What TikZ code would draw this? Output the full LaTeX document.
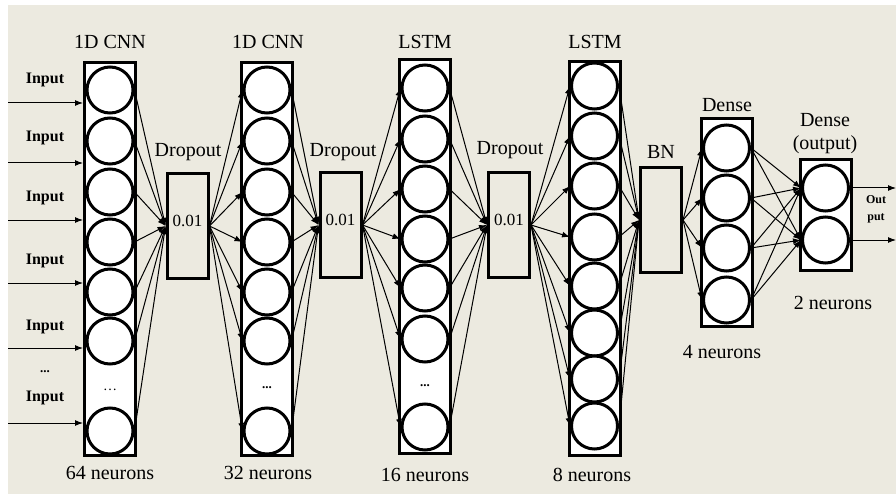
\documentclass[tikz,border=0pt]{standalone}
\usepackage{fontspec}
\setmainfont{Liberation Serif}
\usepackage{tikz}
\usetikzlibrary{arrows.meta,calc}
\definecolor{fondo}{RGB}{236,234,224}

\begin{document}
\begin{tikzpicture}[x=1pt,y=-1pt,
    capa/.style={draw,line width=3pt,fill=white,minimum width=51pt,inner sep=0pt},
    neurona/.style={circle,draw,line width=3pt,fill=white,minimum size=46pt,inner sep=0pt},
    caja/.style={draw,line width=3pt,minimum width=41pt,minimum height=105pt,inner sep=0pt},
    rotulo/.style={font=\fontsize{20}{22}\selectfont,inner sep=0pt},
    entrada/.style={font=\fontsize{17}{19}\selectfont,inner sep=0pt},
    flecha/.style={-{Latex[length=8pt,width=6pt]},line width=1pt}]
  % fondo y margen
  \fill[white] (0,0) rectangle (896,497);
  \fill[fondo] (8,5) rectangle (896,494);
  \useasboundingbox (0,0) rectangle (896,497);
  % capas
  \node[capa,minimum height=393pt] (cnnA) at (110,259) {};
  \node[capa,minimum height=393pt] (cnnB) at (267,259) {};
  \node[capa,minimum height=394pt] (lstmA) at (425,256.5) {};
  \node[capa,minimum height=394pt] (lstmB) at (594.5,258.5) {};
  \node[capa,minimum height=208pt] (densa) at (726.5,222.5) {};
  \node[capa,minimum height=111pt] (salida) at (825.5,215) {};
  \foreach \y [count=\k] in {90,141,192,242,292,341,431}{
    \node[neurona] (a\k) at (110,\y) {};
    \node[neurona] (b\k) at (267,\y) {};
  }
  \foreach \y [count=\k] in {88,139,189,239,288,339,427}
    \node[neurona] (c\k) at (425,\y) {};
  \foreach \y [count=\k] in {86,136,186,237,286,333,379,426}
    \node[neurona] (d\k) at (594.5,\y) {};
  \foreach \y [count=\k] in {148,198,248,300}
    \node[neurona] (e\k) at (726.5,\y) {};
  \foreach \y [count=\k] in {188,240}
    \node[neurona] (o\k) at (825.5,\y) {};
  \node[font=\fontsize{14}{14}\selectfont] (pA) at (110,390) {\dots};
  \node[font=\fontsize{13}{13}\selectfont\bfseries] (pB) at (267,388) {...};
  \node[font=\fontsize{13}{13}\selectfont\bfseries] (pC) at (425,386) {...};
  % dropout y BN
  \node[caja] (dropA) at (187.5,226) {};
  \node[caja] (dropB) at (340.5,225) {};
  \node[caja] (dropC) at (509,225) {};
  \node[caja] (bn) at (661,220) {};
  \foreach \c in {dropA,dropB,dropC}
    \node[entrada] (v\c) at ($(\c)+(0,-5)$) {0.01};
  % conexiones
  \foreach \k in {1,...,7}{
    \draw[flecha] (a\k.east) -- (dropA.west);
    \draw[flecha] (dropA.east) -- (b\k.west);
    \draw[flecha] (b\k.east) -- (dropB.west);
    \draw[flecha] (dropB.east) -- (c\k.west);
    \draw[flecha] (c\k.east) -- (dropC.west);
  }
  \foreach \k in {1,...,8}{
    \draw[flecha] (dropC.east) -- (d\k.west);
    \draw[flecha] (d\k.east) -- (bn.west);
  }
  \foreach \k in {1,...,4}{
    \draw[flecha] (bn.east) -- (e\k.west);
    \foreach \j in {1,2}
      \draw[flecha] (e\k.east) -- (o\j.west);
  }
  \coordinate (fin) at (896,0);
  \foreach \j in {1,2}
    \draw[flecha] (o\j -| salida.east) -- (o\j -| fin);
  % entradas
  \foreach \y [count=\k] in {103,163,220,283,348,423}{
    \coordinate (x\k) at (8,\y);
    \draw[flecha] (x\k) -- (x\k -| cnnA.west);
  }
  \foreach \y [count=\k] in {80,138,198,261,327,398}
    \node[entrada,font=\fontsize{16}{18}\selectfont\bfseries] (in\k) at (45,\y) {Input};
  \node[entrada,font=\fontsize{13}{13}\selectfont\bfseries] (inp) at (45,372) {...};
  % rotulos
  \node[rotulo] (tA) at (110,42) {1D CNN};
  \node[rotulo] (tB) at (268,42) {1D CNN};
  \node[rotulo] (tC) at (425,42) {LSTM};
  \node[rotulo] (tD) at (595,42) {LSTM};
  \node[rotulo] (tdA) at (188,152) {Dropout};
  \node[rotulo] (tdB) at (343,152) {Dropout};
  \node[rotulo] (tdC) at (510,150) {Dropout};
  \node[rotulo] (tbn) at (661,152) {BN};
  \node[rotulo] (tE) at (727,105) {Dense};
  \node[rotulo,align=center] (tO) at (825,134) {Dense\\[1pt](output)};
  \node[font=\fontsize{12}{17}\selectfont\bfseries,align=center] (tS) at (876,209) {Out\\put};
  \node[rotulo] (nA) at (110,473) {64 neurons};
  \node[rotulo] (nB) at (268,473) {32 neurons};
  \node[rotulo] (nC) at (425,475) {16 neurons};
  \node[rotulo] (nD) at (592,475) {8 neurons};
  \node[rotulo] (nE) at (722,352) {4 neurons};
  \node[rotulo] (nO) at (833,303) {2 neurons};
\end{tikzpicture}
\end{document}
